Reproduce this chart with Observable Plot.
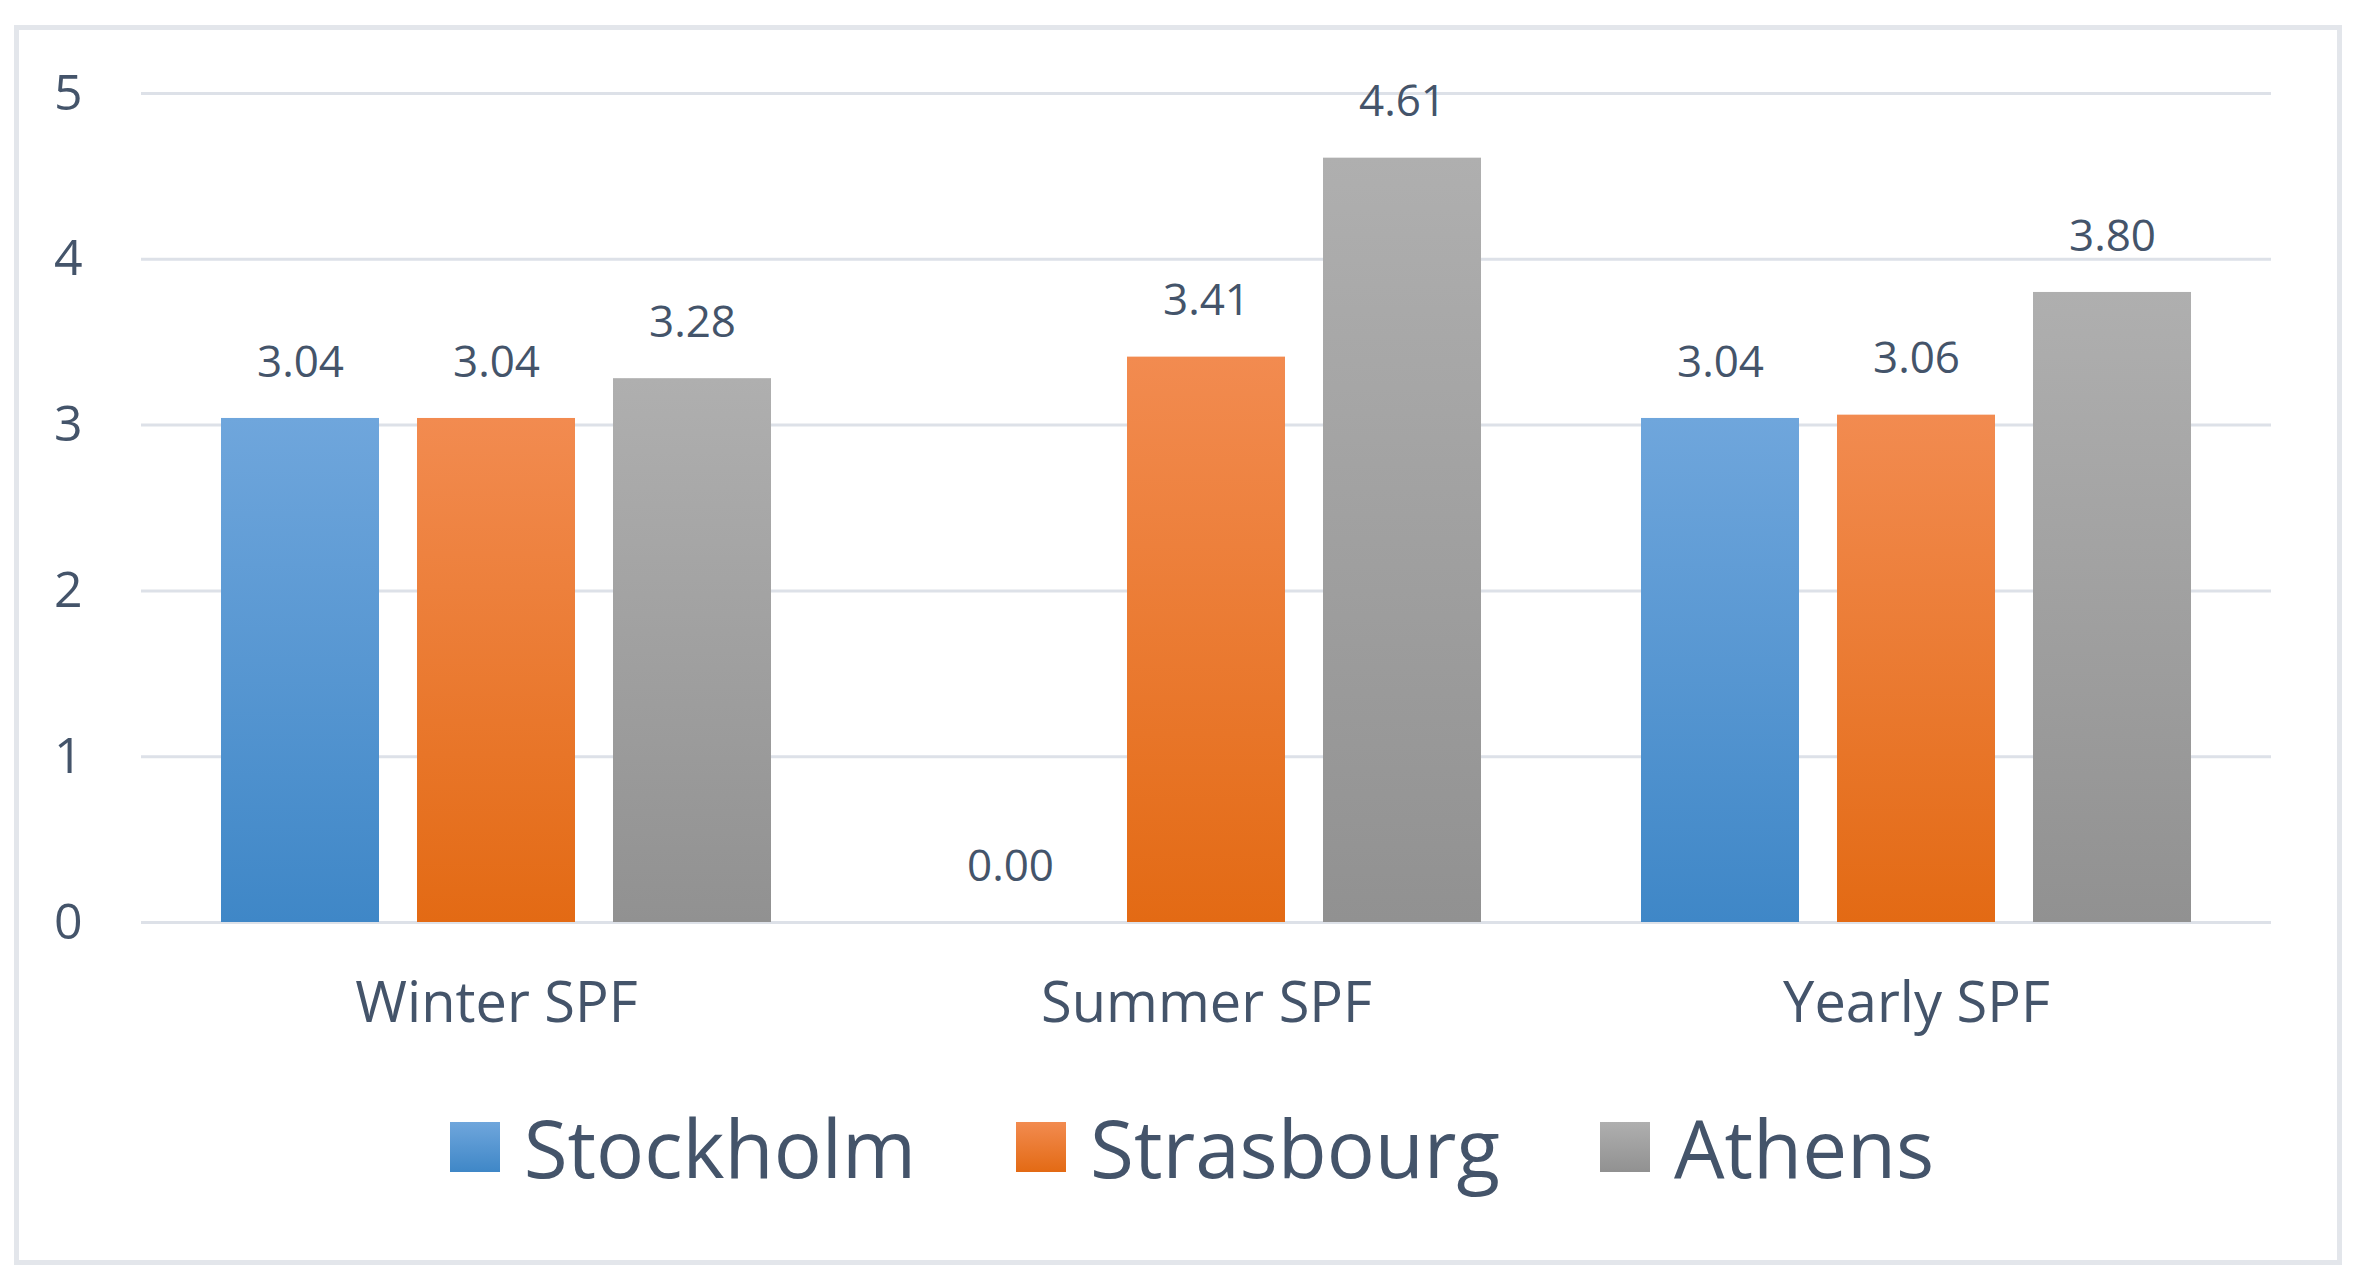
<!DOCTYPE html>
<html>
<head>
<meta charset="utf-8">
<script src="https://cdn.jsdelivr.net/npm/d3@7"></script>
<script src="https://cdn.jsdelivr.net/npm/@observablehq/plot@0.6"></script>
<style>
  html, body { margin: 0; padding: 0; background: #ffffff; }
  body { width: 2361px; height: 1288px; position: relative; overflow: hidden; font-family: "Open Sans", sans-serif; }
  #frame { position: absolute; left: 14px; top: 25px; width: 2318px; height: 1230px; border: 5px solid #e3e6eb; box-sizing: content-box; }
  #chart { position: absolute; left: 0; top: 0; }
  #legend { position: absolute; left: 0; top: 1095px; width: 2384px; height: 104px; display: flex; justify-content: center; align-items: center; color: #44546a; font-size: 80px; line-height: 1; }
  .item { display: flex; align-items: center; }
  .sw { width: 50px; height: 50px; margin-right: 24px; }
  .gap { width: 100px; }
</style>
</head>
<body>
<div id="frame"></div>
<svg width="0" height="0" style="position:absolute">
  <defs>
    <linearGradient id="gStockholm" x1="0" y1="0" x2="0" y2="1">
      <stop offset="0" stop-color="#6fa6dc"/>
      <stop offset="1" stop-color="#3f87c7"/>
    </linearGradient>
    <linearGradient id="gStrasbourg" x1="0" y1="0" x2="0" y2="1">
      <stop offset="0" stop-color="#f28b50"/>
      <stop offset="1" stop-color="#e36a14"/>
    </linearGradient>
    <linearGradient id="gAthens" x1="0" y1="0" x2="0" y2="1">
      <stop offset="0" stop-color="#afafaf"/>
      <stop offset="1" stop-color="#919191"/>
    </linearGradient>
  </defs>
</svg>
<div id="chart"></div>
<div id="legend"></div>
<script>
const categories = ["Winter SPF", "Summer SPF", "Yearly SPF"];
const cities = ["Stockholm", "Strasbourg", "Athens"];
const stockholm = [3.04, 0.00, 3.04];
const strasbourg = [3.04, 3.41, 3.06];
const athens = [3.28, 4.61, 3.80];
const yTicks = [0, 1, 2, 3, 4, 5];

const series = [stockholm, strasbourg, athens];
const rows = [];
categories.forEach((c, i) => {
  cities.forEach((city, j) => rows.push({category: c, city, value: series[j][i]}));
});
const gradients = cities.map(c => `url(#g${c})`);
const textColor = "#44546a";

const chart = Plot.plot({
  width: 2361,
  height: 1060,
  marginLeft: 140,
  marginRight: 90,
  marginTop: 93,
  marginBottom: 138,
  style: {fontFamily: "Open Sans", color: textColor, background: "transparent", overflow: "visible"},
  fx: {domain: categories, padding: 0, axis: null, label: null},
  x: {domain: cities, paddingInner: 0.194, paddingOuter: 0.408, axis: null},
  y: {domain: [0, 5], axis: null},
  color: {domain: cities, range: gradients},
  marks: [
    Plot.gridY(yTicks, {stroke: "#dde1e8", strokeOpacity: 1, strokeWidth: 3}),
    Plot.barY(rows, {fx: "category", x: "city", y: "value", fill: "city"}),
    Plot.text(rows, {fx: "category", x: "city", y: "value", text: d => d.value.toFixed(2), dy: -56, lineAnchor: "middle", fontSize: 44, fill: textColor}),
    Plot.axisY(yTicks, {tickSize: 0, tickPadding: 59, fontSize: 50, label: null, tickFormat: d => String(d), fill: textColor}),
    Plot.axisFx({anchor: "bottom", tickSize: 0, tickPadding: 60, fontSize: 56, label: null, fill: textColor})
  ]
});
document.getElementById("chart").appendChild(chart);

const legend = document.getElementById("legend");
cities.forEach((c, i) => {
  if (i > 0) { const g = document.createElement("div"); g.className = "gap"; legend.appendChild(g); }
  const item = document.createElement("div");
  item.className = "item";
  const sw = document.createElement("div");
  sw.className = "sw";
  const stops = {Stockholm: ["#6fa6dc", "#3f87c7"], Strasbourg: ["#f28b50", "#e36a14"], Athens: ["#afafaf", "#919191"]}[c];
  sw.style.background = `linear-gradient(to bottom, ${stops[0]}, ${stops[1]})`;
  const label = document.createElement("span");
  label.textContent = c;
  item.appendChild(sw);
  item.appendChild(label);
  legend.appendChild(item);
});
</script>
</body>
</html>
